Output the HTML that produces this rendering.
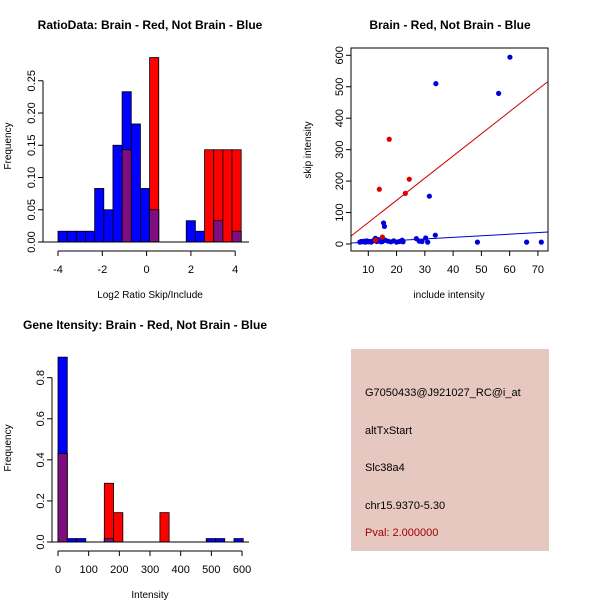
<!DOCTYPE html>
<html><head><meta charset="utf-8"><style>
body{margin:0;background:#fff}
svg{display:block;font-family:"Liberation Sans",sans-serif}
</style></head><body>
<svg id="c" width="600" height="600" xmlns="http://www.w3.org/2000/svg">
<rect width="600" height="600" fill="#fff"/>
<g id="p1"></g>
<g id="p2"></g>
<g id="p3"></g>
<g>
<rect x="351" y="349" width="198" height="202" fill="#e6c8c1"/>
<text x="365" y="396" font-size="11">G7050433@J921027_RC@i_at</text>
<text x="365" y="434" font-size="11">altTxStart</text>
<text x="365" y="471" font-size="11">Slc38a4</text>
<text x="365" y="509" font-size="11">chr15.9370-5.30</text>
<text x="365" y="536" font-size="11" fill="#a00000">Pval: 2.000000</text>
</g>
</svg>
<script>
// Plot 1 data
const ratioBinStart=-4, ratioBinWidth=0.4135;
const ratioBlue=[0.0167,0.0167,0.0167,0.0167,0.083,0.05,0.15,0.233,0.183,0.083,0.05,0,0,0,0.033,0.0167,0,0.033,0,0.0167];
const ratioRed=[0,0,0,0,0,0,0,0.143,0,0,0.286,0,0,0,0,0,0.143,0.143,0.143,0.143];
const ratioXTicks=[-4,-2,0,2,4];
const ratioYTicks=[0,0.05,0.10,0.15,0.20,0.25];
const ratioYLabels=["0.00","0.05","0.10","0.15","0.20","0.25"];
// Plot 2 data
const scatRedX=[13.9,17.4,23.1,24.5,15.0,12.5];
const scatRedY=[174,333,161,206,22,12];
const scatBlueX=[33.9,56.1,60.1,31.6,15.4,15.7,33.7,30.3,27.0,48.6,66.0,71.2,7,7.5,8,8.5,9,9.5,10,10.5,11,11.5,12,12.5,13,13.5,14,14.5,15,16,17,18,19,20,21,22,22.3,28,29,31];
const scatBlueY=[510,479,594,152,67,56,28,19,17,6,6,6,6,8,7,9,6,10,7,8,6,9,12,18,8,14,10,7,8,12,9,7,10,6,8,12,7,9,8,6];
const redLine=[3.87,25,73.6,517];
const blueLine=[3.87,3,73.6,38];
const scatXTicks=[10,20,30,40,50,60,70];
const scatYTicks=[0,100,200,300,400,500,600];
// Plot 3 data
const intBinWidth=30.2;
const intBlue=[0.9,0.0167,0.0167,0,0,0.0167,0,0,0,0,0,0,0,0,0,0,0.0167,0.0167,0,0.0167];
const intRed=[0.43,0,0,0,0,0.286,0.143,0,0,0,0,0.143,0,0,0,0,0,0,0,0];
const intXTicks=[0,100,200,300,400,500,600];
const intYTicks=[0,0.2,0.4,0.6,0.8];
const intYLabels=["0.0","0.2","0.4","0.6","0.8"];

const NS="http://www.w3.org/2000/svg";
function mk(parent,tag,attrs,txt){const e=document.createElementNS(NS,tag);for(const k in attrs)e.setAttribute(k,attrs[k]);if(txt!=null)e.textContent=txt;parent.appendChild(e);return e;}

function hist(g,binStart,bw,blue,red,sx,sy,base){
  for(let i=0;i<blue.length;i++){
    const x0=sx(binStart+i*bw),x1=sx(binStart+(i+1)*bw);
    const b=blue[i],r=red[i],m=Math.min(b,r);
    if(b>0){const e=mk(g,'rect',{x:x0,y:sy(b),width:x1-x0,height:base-sy(b),fill:'#0000ff',stroke:'#000','stroke-width':0.8});
      
      }
    if(r>0){const e=mk(g,'rect',{x:x0,y:sy(r),width:x1-x0,height:base-sy(r),fill:'#ff0000',stroke:'#000','stroke-width':0.8});
      
      }
    if(m>0){const e=mk(g,'rect',{x:x0,y:sy(m),width:x1-x0,height:base-sy(m),fill:'#7f0f80',stroke:'#000','stroke-width':0.8});
      
      }
  }
}
function xAxis(g,ticks,labels,sx,y){
  mk(g,'line',{x1:sx(ticks[0]),x2:sx(ticks[ticks.length-1]),y1:y,y2:y,stroke:'#000'});
  ticks.forEach((t,i)=>{mk(g,'line',{x1:sx(t),x2:sx(t),y1:y,y2:y+5,stroke:'#000'});
    const e=mk(g,'text',{x:sx(t),y:y+22,'font-size':11,'text-anchor':'middle'},labels[i]);
    
    });
}
function yAxis(g,ticks,labels,sy,x){
  mk(g,'line',{x1:x,x2:x,y1:sy(ticks[0]),y2:sy(ticks[ticks.length-1]),stroke:'#000'});
  ticks.forEach((t,i)=>{mk(g,'line',{x1:x,x2:x-5,y1:sy(t),y2:sy(t),stroke:'#000'});
    const e=mk(g,'text',{x:x-8,y:sy(t),'font-size':11,'text-anchor':'middle',transform:`rotate(-90 ${x-8} ${sy(t)})`},labels[i]);
    
    });
}
function label(g,txt,x,y,opts,name){const e=mk(g,'text',Object.assign({x:x,y:y,'text-anchor':'middle'},opts),txt);
  
  }

// Plot 1
{const g=document.getElementById('p1');
 const sx=v=>58+(v+4)*22.15, sy=v=>242-v*645;
 hist(g,ratioBinStart,ratioBinWidth,ratioBlue,ratioRed,sx,sy,242);
 mk(g,'line',{x1:43,x2:249,y1:242,y2:242,stroke:'#000'});
 xAxis(g,ratioXTicks,ratioXTicks.map(String),sx,251);
 yAxis(g,ratioYTicks,ratioYLabels,sy,43);
 label(g,'RatioData: Brain - Red, Not Brain - Blue',150,29,{'font-size':12,'font-weight':'bold'},'chart-title');
 label(g,'Log2 Ratio Skip/Include',150,298,{'font-size':10},'x-axis-title');
 label(g,'Frequency',0,0,{'font-size':10,transform:'translate(11,146) rotate(-90)'},'y-axis-title');}
// Plot 2
{const g=document.getElementById('p2');
 const sx=v=>368.3+(v-10)*2.827, sy=v=>244-v*0.3145;
 mk(g,'rect',{x:351,y:48,width:197,height:203,fill:'none',stroke:'#000'});
 let e=mk(g,'line',{x1:sx(redLine[0]),y1:sy(redLine[1]),x2:sx(redLine[2]),y2:sy(redLine[3]),stroke:'#cc0000'});
 
 
 e=mk(g,'line',{x1:sx(blueLine[0]),y1:sy(blueLine[1]),x2:sx(blueLine[2]),y2:sy(blueLine[3]),stroke:'#0000cc'});
 
 
 scatBlueX.forEach((x,i)=>{const c=mk(g,'circle',{cx:sx(x),cy:sy(scatBlueY[i]),r:2.6,fill:'#0000dd'});
   
   });
 scatRedX.forEach((x,i)=>{const c=mk(g,'circle',{cx:sx(x),cy:sy(scatRedY[i]),r:2.6,fill:'#dd0000'});
   
   });
 xAxis(g,scatXTicks,scatXTicks.map(String),sx,251);
 yAxis(g,scatYTicks,scatYTicks.map(String),sy,351);
 label(g,'Brain - Red, Not Brain - Blue',450,29,{'font-size':12,'font-weight':'bold'},'chart-title');
 label(g,'include intensity',449,298,{'font-size':10},'x-axis-title');
 label(g,'skip intensity',0,0,{'font-size':10,transform:'translate(311,150) rotate(-90)'},'y-axis-title');}
// Plot 3
{const g=document.getElementById('p3');
 const sx=v=>58+v*0.3067, sy=v=>542-v*205.4;
 hist(g,0,intBinWidth,intBlue,intRed,sx,sy,542);
 mk(g,'line',{x1:52,x2:249,y1:542,y2:542,stroke:'#000'});
 xAxis(g,intXTicks,intXTicks.map(String),sx,551);
 yAxis(g,intYTicks,intYLabels,sy,52);
 label(g,'Gene Itensity: Brain - Red, Not Brain - Blue',145,329,{'font-size':12,'font-weight':'bold'},'chart-title');
 label(g,'Intensity',150,598,{'font-size':10},'x-axis-title');
 label(g,'Frequency',0,0,{'font-size':10,transform:'translate(11,448) rotate(-90)'},'y-axis-title');}
</script>
</body></html>
